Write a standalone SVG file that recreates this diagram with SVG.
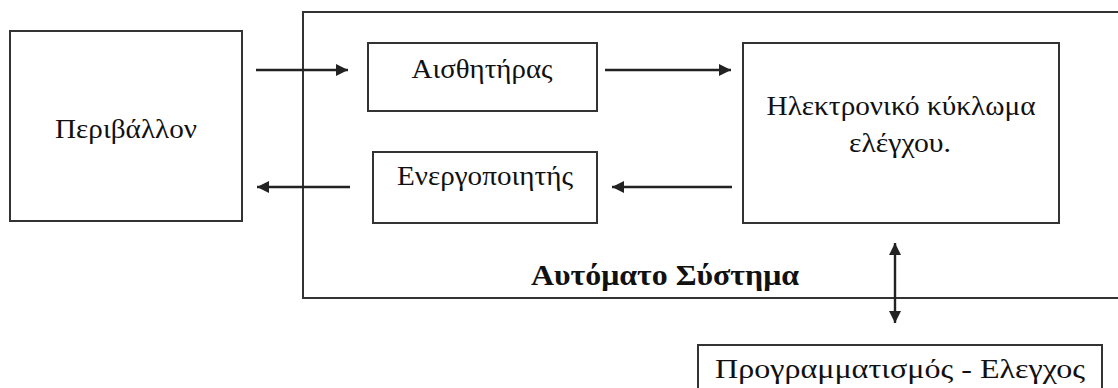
<svg xmlns="http://www.w3.org/2000/svg" width="1118" height="388" viewBox="0 0 1118 388">
<style>
  .box { fill: #fff; stroke: #333; stroke-width: 2; }
  .lbl { font-family: "Liberation Serif", "Times New Roman", serif; font-size: 27px; fill: #111; text-anchor: middle; }
  .bold { font-weight: bold; font-size: 30px; }
  .conn { stroke: #222; stroke-width: 2.4; fill: none; }
</style>
<defs>
  <marker id="ah" viewBox="0 0 10 10" refX="10" refY="5" markerWidth="5.5" markerHeight="5" orient="auto-start-reverse" markerUnits="strokeWidth">
    <path d="M0,0 L10,5 L0,10 z" fill="#222"/>
  </marker>
</defs>
<rect width="1118" height="388" fill="#fff"/>
<g id="system">
  <rect class="box" x="303" y="12" width="830" height="286"/>
  <text class="lbl bold" x="665" y="285" textLength="268" lengthAdjust="spacingAndGlyphs">Αυτόματο Σύστημα</text>
</g>
<g id="environment">
  <rect class="box" x="10" y="31" width="232" height="190"/>
  <text class="lbl" x="126" y="138" textLength="142" lengthAdjust="spacingAndGlyphs">Περιβάλλον</text>
</g>
<g id="sensor">
  <rect class="box" x="368" y="43" width="229" height="68"/>
  <text class="lbl" x="482" y="78" textLength="141" lengthAdjust="spacingAndGlyphs">Αισθητήρας</text>
</g>
<g id="actuator">
  <rect class="box" x="373" y="152" width="224" height="71"/>
  <text class="lbl" x="485" y="185" textLength="176" lengthAdjust="spacingAndGlyphs">Ενεργοποιητής</text>
</g>
<g id="controller">
  <rect class="box" x="743" y="43" width="316" height="180"/>
  <text class="lbl" x="901" y="115" textLength="269" lengthAdjust="spacingAndGlyphs">Ηλεκτρονικό κύκλωμα</text>
  <text class="lbl" x="900" y="152" textLength="102" lengthAdjust="spacingAndGlyphs">ελέγχου.</text>
</g>
<g id="programming">
  <rect class="box" x="698" y="345" width="404" height="60"/>
  <text class="lbl" x="900" y="378" textLength="370" lengthAdjust="spacingAndGlyphs">Προγραμματισμός - Ελεγχος</text>
</g>
<g id="connectors">
  <line class="conn" x1="256" y1="70" x2="348" y2="70" marker-end="url(#ah)"/>
  <line class="conn" x1="605" y1="70" x2="731" y2="70" marker-end="url(#ah)"/>
  <line class="conn" x1="732" y1="187" x2="612" y2="187" marker-end="url(#ah)"/>
  <line class="conn" x1="350" y1="187" x2="257" y2="187" marker-end="url(#ah)"/>
  <line class="conn" x1="895" y1="243" x2="895" y2="323" marker-start="url(#ah)" marker-end="url(#ah)"/>
</g>
</svg>
